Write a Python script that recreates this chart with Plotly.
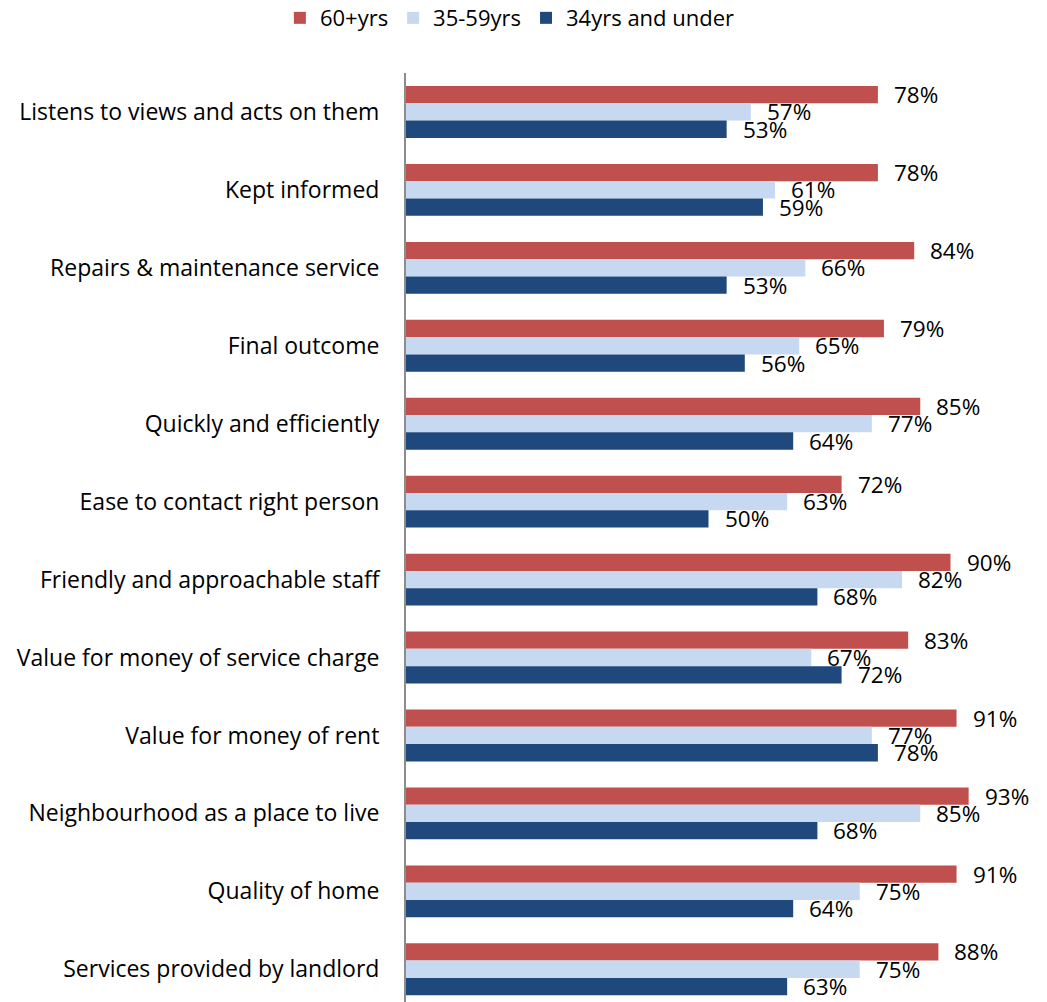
import plotly.graph_objects as go

categories = [
    "Listens to views and acts on them",
    "Kept informed",
    "Repairs & maintenance service",
    "Final outcome",
    "Quickly and efficiently",
    "Ease to contact right person",
    "Friendly and approachable staff",
    "Value for money of service charge",
    "Value for money of rent",
    "Neighbourhood as a place to live",
    "Quality of home",
    "Services provided by landlord",
]
series_names = ["60+yrs", "35-59yrs", "34yrs and under"]
v60 = [78, 78, 84, 79, 85, 72, 90, 83, 91, 93, 91, 88]
v35 = [57, 61, 66, 65, 77, 63, 82, 67, 77, 85, 75, 75]
v34 = [53, 59, 53, 56, 64, 50, 68, 72, 78, 68, 64, 63]
colors = ["#C0504D", "#C6D9F1", "#1F497D"]

FONT = "Open Sans"
pos = list(range(len(categories)))
bar_w = 0.222
offsets = [-bar_w, 0.0, bar_w]

fig = go.Figure()
annotations = []
for name, vals, col, off in zip(series_names, [v60, v35, v34], colors, offsets):
    fig.add_trace(go.Bar(
        y=pos, x=vals, name=name, orientation="h",
        marker=dict(color=col, line=dict(width=0)),
        width=bar_w, offset=off - bar_w / 2,
        hoverinfo="skip",
    ))
    for p, v in zip(pos, vals):
        annotations.append(dict(
            x=v, y=p + off, xref="x", yref="y", text=f"{v}%",
            showarrow=False, xanchor="left", yanchor="middle", xshift=14,
            font=dict(family=FONT, size=22.5, color="#000000"),
        ))

fig.update_layout(
    width=1047, height=1002,
    margin=dict(l=406, r=0, t=73, b=0),
    paper_bgcolor="white", plot_bgcolor="white",
    barmode="overlay",
    showlegend=True,
    legend=dict(
        orientation="h", xref="container", yref="container",
        x=0.487, xanchor="center", y=0.982, yanchor="middle",
        font=dict(family=FONT, size=22, color="#000000"),
        itemwidth=30, traceorder="normal",
    ),
    annotations=annotations,
    xaxis=dict(range=[0, 105.95], showgrid=False, zeroline=False,
               showticklabels=False, showline=False, ticks=""),
    yaxis=dict(range=[11.42, -0.5], tickvals=pos, ticktext=categories,
               showgrid=False, zeroline=False, showline=True,
               linecolor="#8C8C8C", linewidth=2, ticks="",
               ticklabelstandoff=20,
               tickfont=dict(family=FONT, size=23, color="#000000")),
    font=dict(family=FONT),
)

fig.write_html("out.html")
